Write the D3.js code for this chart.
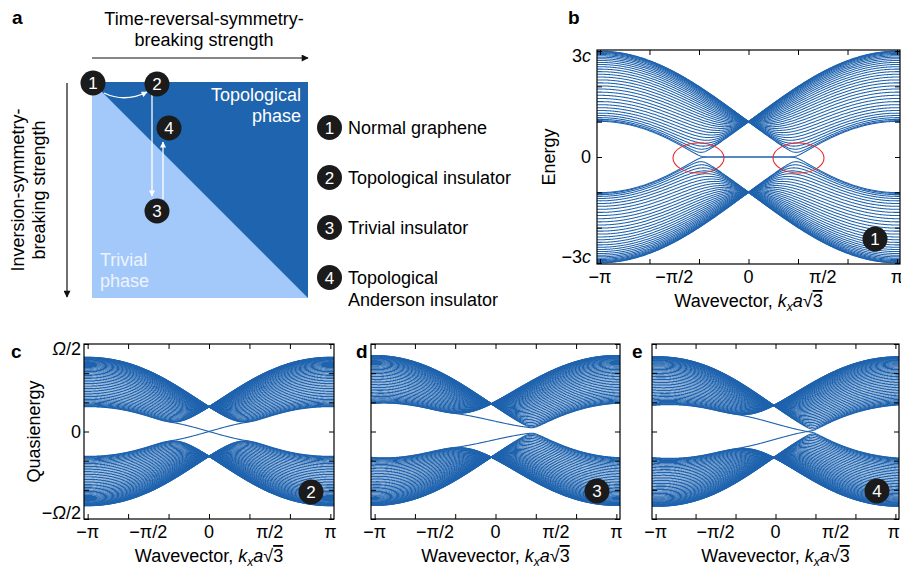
<!DOCTYPE html>
<html><head><meta charset="utf-8">
<script src="https://cdn.jsdelivr.net/npm/d3@7"></script>
<style>
html,body{margin:0;padding:0;background:#fff;}
svg{display:block;font-family:"Liberation Sans",Arial,Helvetica,sans-serif;}
</style></head><body>
<svg id="fig" width="901" height="573"></svg>
<script>
// ------------------------- data -------------------------
const legendNumbers = [1, 2, 3, 4];
const legendLabels = [["Normal graphene"], ["Topological insulator"], ["Trivial insulator"], ["Topological", "Anderson insulator"]];
const phaseLabels = [["Topological", "phase"], ["Trivial", "phase"]];
const axisTitlesA = [["Time-reversal-symmetry-", "breaking strength"], ["Inversion-symmetry-", "breaking strength"]];
const panelLetters = ["a", "b", "c", "d", "e"];

// wavevector axis (units of π)
const kTickMultiples = [-1, -2/3, -1/3, 0, 1/3, 2/3, 1];
const kLabelMultiples = [-1, -0.5, 0, 0.5, 1];
const kLabelTexts = ["−π", "−π/2", "0", "π/2", "π"];
// energy axis of panel b (units of c)
const energyTicks = [-3, -2, -1, 0, 1, 2, 3];
const energyLabelValues = [3, 0, -3];
const energyLabelTexts = [["3", "c"], ["0", ""], ["−3", "c"]];
// quasienergy axis (units of Ω/2)
const quasiTicks = [-1, -2/3, -1/3, 0, 1/3, 2/3, 1];
const quasiLabelValues = [1, 0, -1];
const quasiLabelTexts = [["", "Ω", "/2"], ["0", "", ""], ["−", "Ω", "/2"]];

const ribbonChains = [34, 46, 46, 46];
const panelBadges = [1, 2, 3, 4];
const hopping     = [1.0, 0.283, 0.283, 0.283];   // nearest-neighbour coupling
const haldaneT2   = [0.0, 0.0635, 0.049, 0.061];  // time-reversal breaking term
const sublatticeM = [0.0, 0.0, -0.115, -0.094];   // inversion breaking (sublattice) term
const energyShift = [0.0, 0.0, 0.012, 0.0];
const kShift      = [0.0, 0.0, -0.035, -0.015];   // units of π
const yHalfRange  = [3.03, 1.0, 1.0, 1.0];
const xHalfRange  = [1.02, 1.03, 1.03, 1.03];     // units of π

// ------------------------- helpers -------------------------
const BAND = "#1f63ae", DARK = "#1f64ae", LIGHT = "#a3c8fa";
const FS = 18;
const svg = d3.select("#fig");
const defs = svg.append("defs");

function arrowMarker(id, color, w, h) {
  defs.append("marker").attr("id", id).attr("viewBox", "0 0 10 10")
    .attr("refX", 9).attr("refY", 5).attr("markerWidth", w).attr("markerHeight", h)
    .attr("markerUnits", "userSpaceOnUse").attr("orient", "auto")
    .append("path").attr("d", "M0,0 L10,5 L0,10 Z").attr("fill", color);
}
arrowMarker("blackArrow", "#111", 9, 7);
arrowMarker("whiteArrow", "#fff", 7, 6);

function badge(g, cx, cy, num) {
  g.append("circle").attr("cx", cx).attr("cy", cy).attr("r", 12.5).attr("fill", "#1b1b1b");
  g.append("text").attr("x", cx).attr("y", cy + 6).attr("text-anchor", "middle")
    .attr("fill", "#fff").attr("font-size", 17).text(num);
}

// eigenvalues of symmetric tridiagonal matrix by Sturm bisection
function countBelow(a, e2, lam) {
  let cnt = 0, q = 1;
  for (let i = 0; i < a.length; i++) {
    q = a[i] - lam - (i > 0 ? e2[i - 1] / q : 0);
    if (q === 0) q = -1e-300;
    if (q < 0) cnt++;
  }
  return cnt;
}
function triEig(a, e2, L) {
  const n = a.length, out = new Array(n);
  for (let j = 0; j < n; j++) {
    let lo = -L, hi = L;
    for (let it = 0; it < 32; it++) {
      const mid = 0.5 * (lo + hi);
      if (countBelow(a, e2, mid) > j) hi = mid; else lo = mid;
    }
    out[j] = 0.5 * (lo + hi);
  }
  return out;
}
function computeBands(p) {
  const n = 2 * ribbonChains[p];
  const c = hopping[p], t2 = haldaneT2[p], M = sublatticeM[p], E0 = energyShift[p], sh = kShift[p] * Math.PI;
  const imax = Math.round(xHalfRange[p] * 200);
  const ks = d3.range(-imax, imax + 1).map(i => i * Math.PI / 200);
  const eig = ks.map(x => {
    const xm = x - sh;
    const m = M + 2 * t2 * Math.sin(xm);
    const g = 2 * c * Math.cos((xm + Math.PI) / 2);
    const a = new Array(n), e2 = new Array(n - 1);
    for (let i = 0; i < n; i++) a[i] = (i % 2 === 0 ? m : -m) + E0;
    for (let i = 0; i < n - 1; i++) e2[i] = (i % 2 === 0 ? g * g : c * c);
    const L = Math.abs(m) + Math.abs(E0) + Math.abs(g) + c + 0.05;
    return triEig(a, e2, L);
  });
  return d3.range(n).map(j => ks.map((x, i) => [x, eig[i][j]]));
}

function plotPanel(p, x0, x1, y0, y1, opts) {
  const g = svg.append("g");
  const xs = d3.scaleLinear().domain([-xHalfRange[p] * Math.PI, xHalfRange[p] * Math.PI]).range([x0, x1]);
  const ys = d3.scaleLinear().domain([-yHalfRange[p], yHalfRange[p]]).range([y1, y0]);
  const cid = "clip" + p;
  defs.append("clipPath").attr("id", cid).append("rect")
    .attr("x", x0).attr("y", y0).attr("width", x1 - x0).attr("height", y1 - y0);
  const bands = computeBands(p);
  const line = d3.line().x(d => xs(d[0])).y(d => ys(d[1]));
  g.append("g").attr("clip-path", `url(#${cid})`).selectAll("path").data(bands).join("path")
    .attr("d", line).attr("fill", "none").attr("stroke", BAND).attr("stroke-width", opts.lw);

  const yTickVals = opts.yTicks;
  const kt = kTickMultiples.map(v => v * Math.PI);
  const axStyle = s => s.call(a => a.select(".domain").remove())
    .call(a => a.selectAll("line").attr("stroke", "#000").attr("stroke-width", 1));
  g.append("g").attr("transform", `translate(0,${y1})`)
    .call(d3.axisBottom(xs).tickValues(kt).tickSize(-5).tickFormat("")).call(axStyle);
  g.append("g").attr("transform", `translate(0,${y0})`)
    .call(d3.axisTop(xs).tickValues(kt).tickSize(-5).tickFormat("")).call(axStyle);
  g.append("g").attr("transform", `translate(${x0},0)`)
    .call(d3.axisLeft(ys).tickValues(yTickVals).tickSize(-5).tickFormat("")).call(axStyle);
  g.append("g").attr("transform", `translate(${x1},0)`)
    .call(d3.axisRight(ys).tickValues(yTickVals).tickSize(-5).tickFormat("")).call(axStyle);
  g.append("rect").attr("x", x0).attr("y", y0).attr("width", x1 - x0).attr("height", y1 - y0)
    .attr("fill", "none").attr("stroke", "#000").attr("stroke-width", 1.2);

  // x tick labels
  kLabelMultiples.forEach((v, i) => {
    const tl = g.append("text").attr("x", xs(v * Math.PI)).attr("y", y1 + 19).attr("text-anchor", "middle")
      .attr("font-size", FS).text(kLabelTexts[i]);
    if (opts.clampRight && i === kLabelMultiples.length - 1) {
      const w = tl.node().getComputedTextLength();
      if (xs(v * Math.PI) + w / 2 > 900) tl.attr("text-anchor", "end").attr("x", 900);
    }
  });
  // x title
  const t = g.append("text").attr("x", (x0 + x1) / 2).attr("y", y1 + 43).attr("text-anchor", "middle")
    .attr("font-size", FS);
  t.append("tspan").text("Wavevector, ");
  t.append("tspan").attr("font-style", "italic").text("k");
  t.append("tspan").attr("font-style", "italic").attr("font-size", 12).attr("dy", 4).text("x");
  t.append("tspan").attr("font-style", "italic").attr("dy", -4).text("a");
  t.append("tspan").text("√");
  t.append("tspan").style("text-decoration", "overline").text("3");

  // y labels (outer labels kept inside the frame height)
  if (opts.yLabels) {
    const nv = opts.yLabels.vals.length;
    opts.yLabels.vals.forEach((v, i) => {
      const dy = i === 0 ? 11 : (i === nv - 1 ? 0 : 6);
      const tx = g.append("text").attr("x", x0 - opts.yLabels.gap).attr("y", ys(v) + dy)
        .attr("text-anchor", "end").attr("font-size", FS);
      opts.yLabels.parts[i].forEach((s, k) => {
        if (s === "") return;
        const ts = tx.append("tspan").text(s);
        if (opts.yLabels.italicIdx === k) ts.attr("font-style", "italic");
      });
    });
    g.append("text").attr("transform", `translate(${opts.yTitleX},${(y0 + y1) / 2}) rotate(-90)`)
      .attr("text-anchor", "middle").attr("font-size", FS).text(opts.yTitle);
  }
  badge(g, opts.badge[0], opts.badge[1], panelBadges[p]);
  return {xs, ys, g};
}

// ------------------------- panel a -------------------------
const ga = svg.append("g");
ga.append("rect").attr("x", 92).attr("y", 82).attr("width", 216).attr("height", 216).attr("fill", LIGHT);
ga.append("path").attr("d", "M92,82 L308,82 L308,298 Z").attr("fill", DARK);
// axis arrows
ga.append("line").attr("x1", 92).attr("y1", 58).attr("x2", 308).attr("y2", 58)
  .attr("stroke", "#111").attr("stroke-width", 1.2).attr("marker-end", "url(#blackArrow)");
ga.append("line").attr("x1", 67).attr("y1", 83).attr("x2", 67).attr("y2", 297)
  .attr("stroke", "#111").attr("stroke-width", 1.2).attr("marker-end", "url(#blackArrow)");
axisTitlesA[0].forEach((s, i) => ga.append("text").attr("x", 204).attr("y", 25 + i * 21)
  .attr("text-anchor", "middle").attr("font-size", FS).text(s));
axisTitlesA[1].forEach((s, i) => ga.append("text")
  .attr("transform", `translate(${24 + i * 21},190) rotate(-90)`)
  .attr("text-anchor", "middle").attr("font-size", FS).text(s));
// phase labels
phaseLabels[0].forEach((s, i) => ga.append("text").attr("x", 301).attr("y", 101 + i * 21)
  .attr("text-anchor", "end").attr("font-size", FS).attr("fill", "#fff").text(s));
phaseLabels[1].forEach((s, i) => ga.append("text").attr("x", 100).attr("y", 266 + i * 21)
  .attr("font-size", FS).attr("fill", "#eef4ff").text(s));
// white transitions
ga.append("path").attr("d", "M104,93 Q125,103 147,92").attr("fill", "none")
  .attr("stroke", "#fff").attr("stroke-width", 1.3).attr("marker-end", "url(#whiteArrow)");
ga.append("line").attr("x1", 152).attr("y1", 95).attr("x2", 152).attr("y2", 196)
  .attr("stroke", "#fff").attr("stroke-width", 1.3).attr("marker-end", "url(#whiteArrow)");
ga.append("line").attr("x1", 163).attr("y1", 199).attr("x2", 163).attr("y2", 142)
  .attr("stroke", "#fff").attr("stroke-width", 1.3).attr("marker-end", "url(#whiteArrow)");
badge(ga, 93, 83, 1);
badge(ga, 157, 84, 2);
badge(ga, 169, 128, 4);
badge(ga, 157, 211, 3);
// legend
legendNumbers.forEach((num, i) => {
  const cy = 127.5 + i * 50;
  badge(ga, 329.5, cy, num);
  legendLabels[i].forEach((s, k) => ga.append("text").attr("x", 348).attr("y", cy + 6 + k * 22)
    .attr("font-size", FS).text(s));
});

// ------------------------- panels b-e -------------------------
const pb = plotPanel(0, 597, 900, 50, 264, {
  yTicks: energyTicks, lw: 1.05,
  yLabels: {vals: energyLabelValues, parts: energyLabelTexts, italicIdx: 1, gap: 6},
  yTitle: "Energy", yTitleX: 555, badge: [875, 239]
});
// red ellipses around the Dirac points
[-1, 1].forEach(s => pb.g.append("ellipse")
  .attr("cx", pb.xs(s * Math.PI / 3) + s * 0.5).attr("cy", pb.ys(0) + 1)
  .attr("rx", 25.5).attr("ry", 15).attr("fill", "none").attr("stroke", "#e8282d").attr("stroke-width", 1.1));

plotPanel(1, 84, 334, 344, 519, {
  yTicks: quasiTicks, lw: 1.1,
  yLabels: {vals: quasiLabelValues, parts: quasiLabelTexts, italicIdx: 1, gap: 3},
  yTitle: "Quasienergy", yTitleX: 40, badge: [311, 492]
});
plotPanel(2, 371, 620, 344, 519, {yTicks: quasiTicks, lw: 1.1, badge: [597, 491]});
plotPanel(3, 652, 899, 344, 519, {yTicks: quasiTicks, lw: 1.1, badge: [877, 491], clampRight: true});

// panel letters
[[12, 24], [568, 24], [11, 358], [356, 358], [632, 358]].forEach((pos, i) =>
  svg.append("text").attr("x", pos[0]).attr("y", pos[1]).attr("font-size", 19)
    .attr("font-weight", "bold").text(panelLetters[i]));
</script>
</body></html>
